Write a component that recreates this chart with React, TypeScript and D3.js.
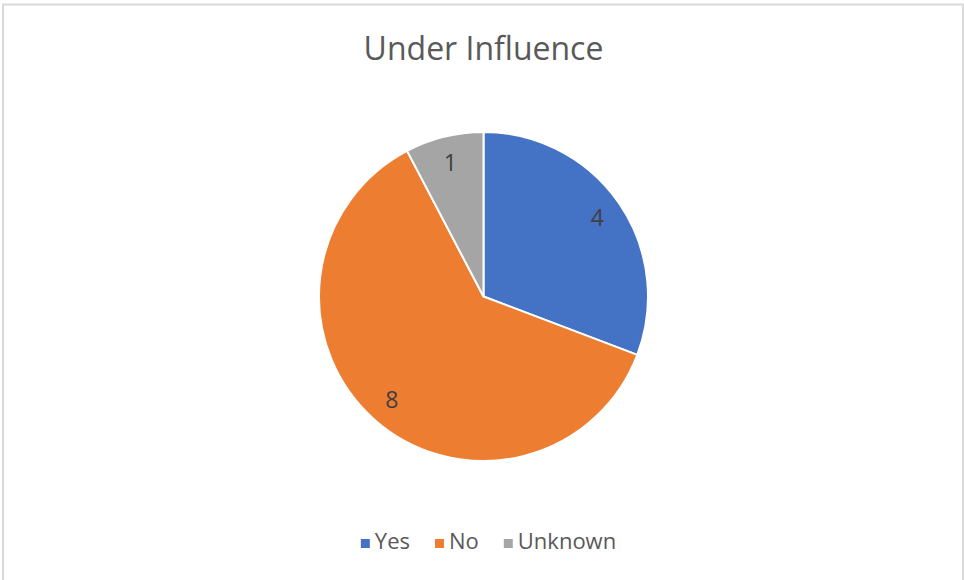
import React, { useEffect, useRef } from "react";
import * as d3 from "d3";

const categories = ["Yes", "No", "Unknown"];
const values = [4, 8, 1];
const colors = ["#4472C4", "#ED7D31", "#A5A5A5"];
const title = "Under Influence";

const W = 964;
const H = 580;
const FONT = "'Open Sans', 'Noto Sans', sans-serif";

export default function App() {
  const ref = useRef<SVGSVGElement | null>(null);

  useEffect(() => {
    const svg = d3.select(ref.current);
    svg.selectAll("*").remove();

    svg.append("rect").attr("x", 0).attr("y", 0).attr("width", W).attr("height", H).attr("fill", "#fff");
    svg
      .append("rect")
      .attr("x", 3)
      .attr("y", 4.5)
      .attr("width", 960)
      .attr("height", 590)
      .attr("fill", "none")
      .attr("stroke", "#d9d9d9")
      .attr("stroke-width", 2);

    svg
      .append("text")
      .attr("x", 483.5)
      .attr("y", 60)
      .attr("text-anchor", "middle")
      .attr("font-family", FONT)
      .attr("font-size", 32)
      .attr("fill", "#595959")
      .text(title);

    const cx = 483.5;
    const cy = 296.5;
    const R = 164.5;

    const data = categories.map((c, i) => ({ c, v: values[i], color: colors[i] }));
    const pie = d3
      .pie<{ c: string; v: number; color: string }>()
      .value((d) => d.v)
      .sort(null);
    const arcs = pie(data);
    const arc = d3.arc<d3.PieArcDatum<{ c: string; v: number; color: string }>>().innerRadius(0).outerRadius(R);
    const labelArc = d3
      .arc<d3.PieArcDatum<{ c: string; v: number; color: string }>>()
      .innerRadius(R * 0.84)
      .outerRadius(R * 0.84);

    const g = svg.append("g").attr("transform", `translate(${cx},${cy})`);
    g.selectAll("path.slice")
      .data(arcs)
      .join("path")
      .attr("class", "slice")
      .attr("d", arc)
      .attr("fill", (d) => d.data.color)
      .attr("stroke", "#fff")
      .attr("stroke-width", 2)
      .attr("stroke-linejoin", "round");

    g.selectAll("text.lbl")
      .data(arcs)
      .join("text")
      .attr("class", "lbl")
      .attr("transform", (d) => {
        const [x, y] = labelArc.centroid(d);
        return `translate(${x},${y})`;
      })
      .attr("text-anchor", "middle")
      .attr("dy", "0.36em")
      .attr("font-family", FONT)
      .attr("font-size", 23)
      .attr("fill", "#404040")
      .text((d) => String(d.data.v));

    // Legend
    const legend = svg.append("g");
    const items = legend
      .selectAll("g.item")
      .data(data)
      .join("g")
      .attr("class", "item");
    items
      .append("rect")
      .attr("width", 9)
      .attr("height", 9)
      .attr("y", -10)
      .attr("fill", (d) => d.color);
    items
      .append("text")
      .attr("x", 14)
      .attr("font-family", FONT)
      .attr("font-size", 22)
      .attr("fill", "#595959")
      .text((d) => d.c);

    const gap = 25;
    let x = 0;
    items.each(function () {
      const node = this as SVGGElement;
      const t = d3.select(node).select("text").node() as SVGTextElement;
      const w = 14 + t.getComputedTextLength();
      d3.select(node).attr("transform", `translate(${x},0)`);
      x += w + gap;
    });
    const total = x - gap;
    legend.attr("transform", `translate(${cx + 5 - total / 2},${549})`);
  }, []);

  return (
    <svg
      ref={ref}
      width={W}
      height={H}
      style={{ position: "absolute", left: 0, top: 0, display: "block" }}
    />
  );
}
